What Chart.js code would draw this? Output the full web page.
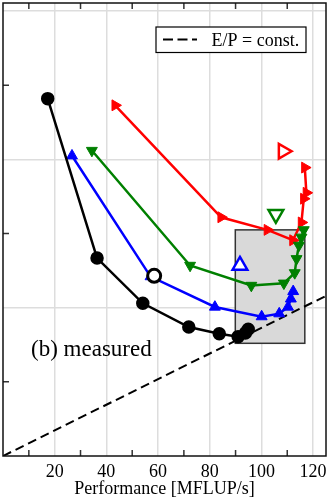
<!DOCTYPE html>
<html>
<head>
<meta charset="utf-8">
<script src="https://cdn.jsdelivr.net/npm/chart.js@4"></script>
<style>
  html, body { margin: 0; padding: 0; background: #fff; }
  #wrap { width: 329px; height: 498px; position: relative; }
</style>
</head>
<body>
<div id="wrap"><canvas id="perfChart"></canvas></div>
<script>
// Measured curves (x = performance, y = energy, arbitrary units)
const blackX = [17.3, 36.4, 54.1, 71.9, 83.7, 91.0, 93.8, 94.9];
const blackY = [4.82, 2.67, 2.06, 1.74, 1.65, 1.61, 1.66, 1.71];
const blueX  = [26.7, 57.1, 82.0, 100.1, 106.9, 110.3, 111.4, 112.3];
const blueY  = [4.05, 2.42, 2.01, 1.88, 1.92, 2.01, 2.12, 2.22];
const greenX = [34.4, 72.4, 96.1, 108.7, 112.9, 113.6, 114.5, 115.5, 116.4];
const greenY = [4.12, 2.57, 2.30, 2.33, 2.47, 2.66, 2.84, 2.95, 3.05];
const redX   = [43.4, 84.4, 102.3, 112.2, 115.5, 116.4, 117.4, 116.8];
const redY   = [4.73, 3.22, 3.05, 2.91, 3.15, 3.47, 3.55, 3.89];

// Single hollow markers
const openCircle = [58.5, 2.43];
const openBlue   = [91.7, 2.57];
const openGreen  = [105.6, 3.26];
const openRed    = [108.4, 4.11];

// Grey highlighted region
const boxX = [89.9, 116.8];
const boxY = [1.52, 3.05];

// E/P = const. line
const constX = [0, 125];
const constY = [0, 2.16];

// Axis ticks
const xMajorTicks = [20, 40, 60, 80, 100, 120];
const xMinorTicks = [10, 30, 50, 70, 90, 110];
const yMinorTicks = [1, 3, 5];

const SERIF = "'Liberation Serif', 'Times New Roman', serif";

function pts(xs, ys) {
    return xs.map((x, i) => ({ x: x, y: ys[i] }));
}

const decorations = {
    id: 'decorations',
    beforeDatasetsDraw(chart) {
        const { ctx, scales: { x, y } } = chart;
        const x0 = x.getPixelForValue(boxX[0]), x1 = x.getPixelForValue(boxX[1]);
        const y0 = y.getPixelForValue(boxY[0]), y1 = y.getPixelForValue(boxY[1]);
        ctx.save();
        ctx.fillStyle = '#d9d9d9';
        ctx.fillRect(x0, y1, x1 - x0, y0 - y1);
        ctx.strokeStyle = '#333';
        ctx.lineWidth = 1.5;
        ctx.strokeRect(x0, y1, x1 - x0, y0 - y1);
        ctx.restore();
    },
    afterDraw(chart) {
        const { ctx, chartArea: a, scales: { x, y } } = chart;
        ctx.save();
        // inward minor ticks
        ctx.strokeStyle = '#333';
        ctx.lineWidth = 1.5;
        ctx.beginPath();
        xMinorTicks.forEach(v => {
            const px = x.getPixelForValue(v);
            ctx.moveTo(px, a.bottom); ctx.lineTo(px, a.bottom - 6);
            ctx.moveTo(px, a.top); ctx.lineTo(px, a.top + 6);
        });
        yMinorTicks.forEach(v => {
            const py = y.getPixelForValue(v);
            ctx.moveTo(a.left, py); ctx.lineTo(a.left + 6, py);
        });
        ctx.stroke();
        // frame
        ctx.strokeStyle = '#111';
        ctx.strokeRect(a.left, a.top, a.right - a.left, a.bottom - a.top);

        // legend
        const lx = a.right - 170, ly = a.top + 24;
        ctx.fillStyle = '#fff';
        ctx.fillRect(lx, ly, 150, 25.5);
        ctx.lineWidth = 1.2;
        ctx.strokeStyle = '#000';
        ctx.strokeRect(lx, ly, 150, 25.5);
        ctx.setLineDash([10, 4.5]);
        ctx.lineWidth = 2;
        ctx.beginPath();
        ctx.moveTo(lx + 7, ly + 12.5);
        ctx.lineTo(lx + 41, ly + 12.5);
        ctx.stroke();
        ctx.setLineDash([]);
        ctx.fillStyle = '#000';
        ctx.font = '18px ' + SERIF;
        ctx.textBaseline = 'alphabetic';
        ctx.fillText('E/P = const.', lx + 55.5, ly + 18.5);

        // x axis title
        ctx.textAlign = 'center';
        ctx.fillText('Performance [MFLUP/s]', (a.left + a.right) / 2, a.bottom + 38.3);

        // panel label
        ctx.textAlign = 'left';
        ctx.font = '23px ' + SERIF;
        ctx.fillText('(b) measured', a.left + 28, 356);
        ctx.restore();
    }
};

const triStyle = (color, rot, r) => ({
    pointStyle: 'triangle',
    pointRotation: rot,
    pointRadius: r,
    pointBackgroundColor: color,
    pointBorderColor: color,
    pointBorderWidth: 1
});

const ctx = document.getElementById('perfChart').getContext('2d');

new Chart(ctx, {
    type: 'scatter',
    data: {
        datasets: [
            {
                label: 'E/P = const.',
                data: pts(constX, constY),
                showLine: true,
                borderColor: '#000',
                borderWidth: 2,
                borderDash: [9, 5],
                pointRadius: 0,
                order: 10
            },
            Object.assign({
                label: 'red',
                data: pts(redX, redY),
                showLine: true,
                borderColor: '#ff0000',
                borderWidth: 2.5,
                order: 5
            }, triStyle('#ff0000', 90, 6.3)),
            Object.assign({
                label: 'green',
                data: pts(greenX, greenY),
                showLine: true,
                borderColor: '#008000',
                borderWidth: 2.5,
                order: 4
            }, triStyle('#008000', 180, 6.3)),
            Object.assign({
                label: 'blue',
                data: pts(blueX, blueY),
                showLine: true,
                borderColor: '#0000ff',
                borderWidth: 2.5,
                order: 3
            }, triStyle('#0000ff', 0, 6.3)),
            {
                label: 'black',
                data: pts(blackX, blackY),
                showLine: true,
                borderColor: '#000',
                borderWidth: 2.5,
                pointRadius: 5.5,
                pointBackgroundColor: '#000',
                pointBorderColor: '#000',
                order: 2
            },
            {
                label: 'open circle',
                data: [{ x: openCircle[0], y: openCircle[1] }],
                pointRadius: 6.5,
                pointBorderWidth: 3,
                pointBackgroundColor: '#fff',
                pointBorderColor: '#000',
                order: 1
            },
            {
                label: 'open blue',
                data: [{ x: openBlue[0], y: openBlue[1] }],
                pointStyle: 'triangle',
                pointRadius: 8.5,
                pointBorderWidth: 2.5,
                pointBackgroundColor: '#fff',
                pointBorderColor: '#0000ff',
                order: 1
            },
            {
                label: 'open green',
                data: [{ x: openGreen[0], y: openGreen[1] }],
                pointStyle: 'triangle',
                pointRotation: 180,
                pointRadius: 8.5,
                pointBorderWidth: 2.5,
                pointBackgroundColor: '#fff',
                pointBorderColor: '#008000',
                order: 1
            },
            {
                label: 'open red',
                data: [{ x: openRed[0], y: openRed[1] }],
                pointStyle: 'triangle',
                pointRotation: 90,
                pointRadius: 8.5,
                pointBorderWidth: 2.5,
                pointBackgroundColor: '#fff',
                pointBorderColor: '#ff0000',
                order: 1
            }
        ]
    },
    options: {
        responsive: true,
        maintainAspectRatio: false,
        animation: false,
        layout: { autoPadding: false, padding: { left: 3, right: 3, top: 3, bottom: 15.4 } },
        plugins: {
            legend: { display: false },
            tooltip: { enabled: false }
        },
        scales: {
            x: {
                type: 'linear',
                min: 0,
                max: 125,
                border: { display: false },
                grid: {
                    drawTicks: true,
                    tickLength: 5,
                    tickColor: 'rgba(0,0,0,0)',
                    lineWidth: 1.5,
                    color: c => xMajorTicks.includes(c.tick.value) ? '#dddddd' : 'rgba(0,0,0,0)'
                },
                ticks: {
                    stepSize: 10,
                    includeBounds: false,
                    autoSkip: false,
                    maxRotation: 0,
                    padding: 0,
                    color: '#000',
                    font: { family: SERIF, size: 18 },
                    callback: v => xMajorTicks.includes(v) ? String(v) : ''
                },
                title: { display: false }
            },
            y: {
                type: 'linear',
                min: 0,
                max: 6.11,
                border: { display: false },
                grid: {
                    drawTicks: false,
                    lineWidth: 1.5,
                    color: c => (c.tick.value > 0 && c.tick.value % 2 === 0) ? '#dddddd' : 'rgba(0,0,0,0)'
                },
                ticks: { display: false, stepSize: 1, includeBounds: false }
            }
        }
    },
    plugins: [decorations]
});
</script>
</body>
</html>
